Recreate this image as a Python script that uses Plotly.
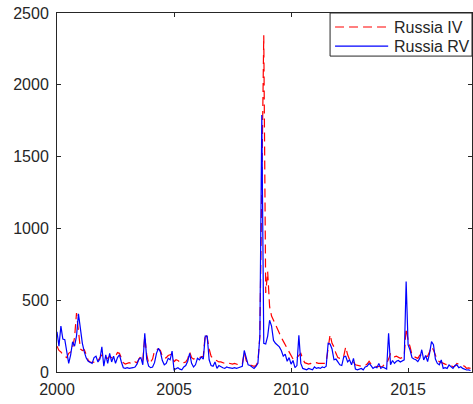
import plotly.graph_objects as go

start_year = 2000
rv_values = [
    280, 180, 320, 230, 225, 140, 60, 120, 210, 180, 250, 405,
    290, 200, 140, 97, 75, 70, 60, 100, 110, 70, 90, 176,
    40, 120, 60, 130, 70, 110, 60, 100, 120, 70, 30, 25,
    30, 25, 25, 30, 35, 55, 90, 100, 50, 270, 90, 40,
    30, 35, 65, 130, 165, 140, 80, 50, 60, 95, 85, 145,
    15, 25, 30, 20, 15, 35, 45, 75, 130, 60, 35, 50,
    95, 85, 105, 90, 250, 250, 85, 45, 40, 70, 25, 45,
    35, 30, 25, 35, 30, 25, 25, 30, 25, 30, 35, 40,
    150, 90, 50, 45, 35, 25, 40, 60, 250, 1790,
    200, 195, 250, 360, 320, 220, 200, 185, 175, 150, 110, 125, 75, 100,
    55, 80, 30, 45, 255, 60, 25, 20, 15, 25, 20, 15, 35, 25,
    30, 25, 35, 30, 40, 200, 195, 160, 85, 90, 70, 50, 45, 105, 110,
    70, 85, 50, 95, 20, 15, 20, 25, 15, 35, 40, 60, 45, 25, 35,
    30, 60, 25, 35, 30, 20, 270, 50, 80, 60, 75, 80, 70, 75, 85, 630,
    188, 153, 100, 90, 85, 72, 95, 155, 84, 115, 72, 130, 211, 190, 90,
    60, 50, 84, 25, 30, 25, 49, 35, 25, 45, 50, 30, 37, 25, 20, 14, 15, 10,
]
iv_values = [
    180, 150, 140, 120, 110, 100, 130, 140, 170, 240, 410, 300,
    160, 150, 155, 120, 80, 70, 65, 70, 90, 80, 100, 120,
    90, 100, 95, 110, 100, 110, 110, 135, 130, 90, 65, 55,
    60, 65, 60, 55, 70, 65, 90, 110, 80, 250, 120, 60,
    70, 90, 150, 155, 160, 150, 110, 95, 100, 115, 120, 125,
    70, 85, 80, 70, 60, 65, 70, 90, 140, 100, 90, 95,
    95, 100, 105, 110, 265, 240, 160, 110, 95, 85, 80, 70,
    70, 65, 60, 65, 60, 60, 55, 60, 55, 50, 45, 55,
    140, 80, 55, 50, 45, 40, 45, 70, 250, 1300, 2345,
    550, 700, 455, 390, 360, 330, 290, 270, 240, 215, 190, 160, 130, 110,
    90, 85, 100, 110, 130, 90, 65, 60, 55, 60, 55, 60, 65,
    60, 60, 55, 60, 70, 150, 260, 200, 175, 130, 100, 95, 90, 110, 175,
    120, 85, 75, 70, 50, 45, 45, 40, 45, 45, 55, 75, 55, 45, 40,
    38, 40, 38, 40, 55, 60, 90, 130, 110, 105, 110, 100, 95, 100, 110, 304,
    220, 176, 118, 107, 100, 95, 118, 120, 118, 107, 110, 141, 176, 153, 110,
    84, 72, 65, 60, 55, 50, 49, 45, 37, 40, 60, 55, 49, 45, 40, 25, 28, 25,
]
series_names = ["Russia IV", "Russia RV"]
x_ticks = [2000, 2005, 2010, 2015]
y_ticks = [0, 500, 1000, 1500, 2000, 2500]

t_iv = [start_year + i / 12 for i in range(len(iv_values))]
t_rv = [start_year + i / 12 for i in range(len(rv_values))]

axis_col = "#262626"
font_fam = "Liberation Sans, Arial, sans-serif"
iv_line = dict(color="#ff0000", width=1.2, dash="9px,5px")
rv_line = dict(color="#0000ff", width=1.2)

fig = go.Figure()
fig.add_trace(go.Scatter(x=t_iv, y=iv_values, mode="lines", name=series_names[0],
                         line=iv_line, showlegend=False))
fig.add_trace(go.Scatter(x=t_rv, y=rv_values, mode="lines", name=series_names[1],
                         line=rv_line, showlegend=False))

# legend box drawn in MATLAB style (top-right, inside the axes)
lx0, lx1, ly0, ly1 = 0.658, 1.0, 0.880, 1.0
rows_y = [0.961, 0.908]
fig.add_shape(type="rect", xref="paper", yref="paper", x0=lx0, x1=lx1, y0=ly0, y1=ly1,
              line=dict(color=axis_col, width=1), fillcolor="white", layer="above")
for name, ln, ry in zip(series_names, [iv_line, rv_line], rows_y):
    fig.add_shape(type="line", xref="paper", yref="paper", x0=0.670, x1=0.798, y0=ry, y1=ry,
                  line=ln, layer="above")
    fig.add_annotation(xref="paper", yref="paper", x=0.807, y=ry, text=name, showarrow=False,
                       xanchor="left", yanchor="middle",
                       font=dict(family=font_fam, size=16, color=axis_col))

fig.update_layout(
    width=473, height=404,
    margin=dict(l=57, r=1, t=13, b=32),
    plot_bgcolor="white", paper_bgcolor="white",
    font=dict(family=font_fam, size=16, color=axis_col),
    showlegend=False,
)
fig.update_xaxes(range=[2000, 2017.73], tickvals=x_ticks, ticktext=[str(v) for v in x_ticks],
                 ticks="inside", ticklen=4, tickcolor=axis_col, showline=True,
                 linecolor=axis_col, linewidth=1, mirror="ticks", showgrid=False,
                 zeroline=False, ticklabelstandoff=3)
fig.update_yaxes(range=[0, 2500], tickvals=y_ticks, ticktext=[str(v) for v in y_ticks],
                 ticks="inside", ticklen=4, tickcolor=axis_col, showline=True,
                 linecolor=axis_col, linewidth=1, mirror="ticks", showgrid=False,
                 zeroline=False, ticklabelstandoff=4)

fig.write_html("out.html")
